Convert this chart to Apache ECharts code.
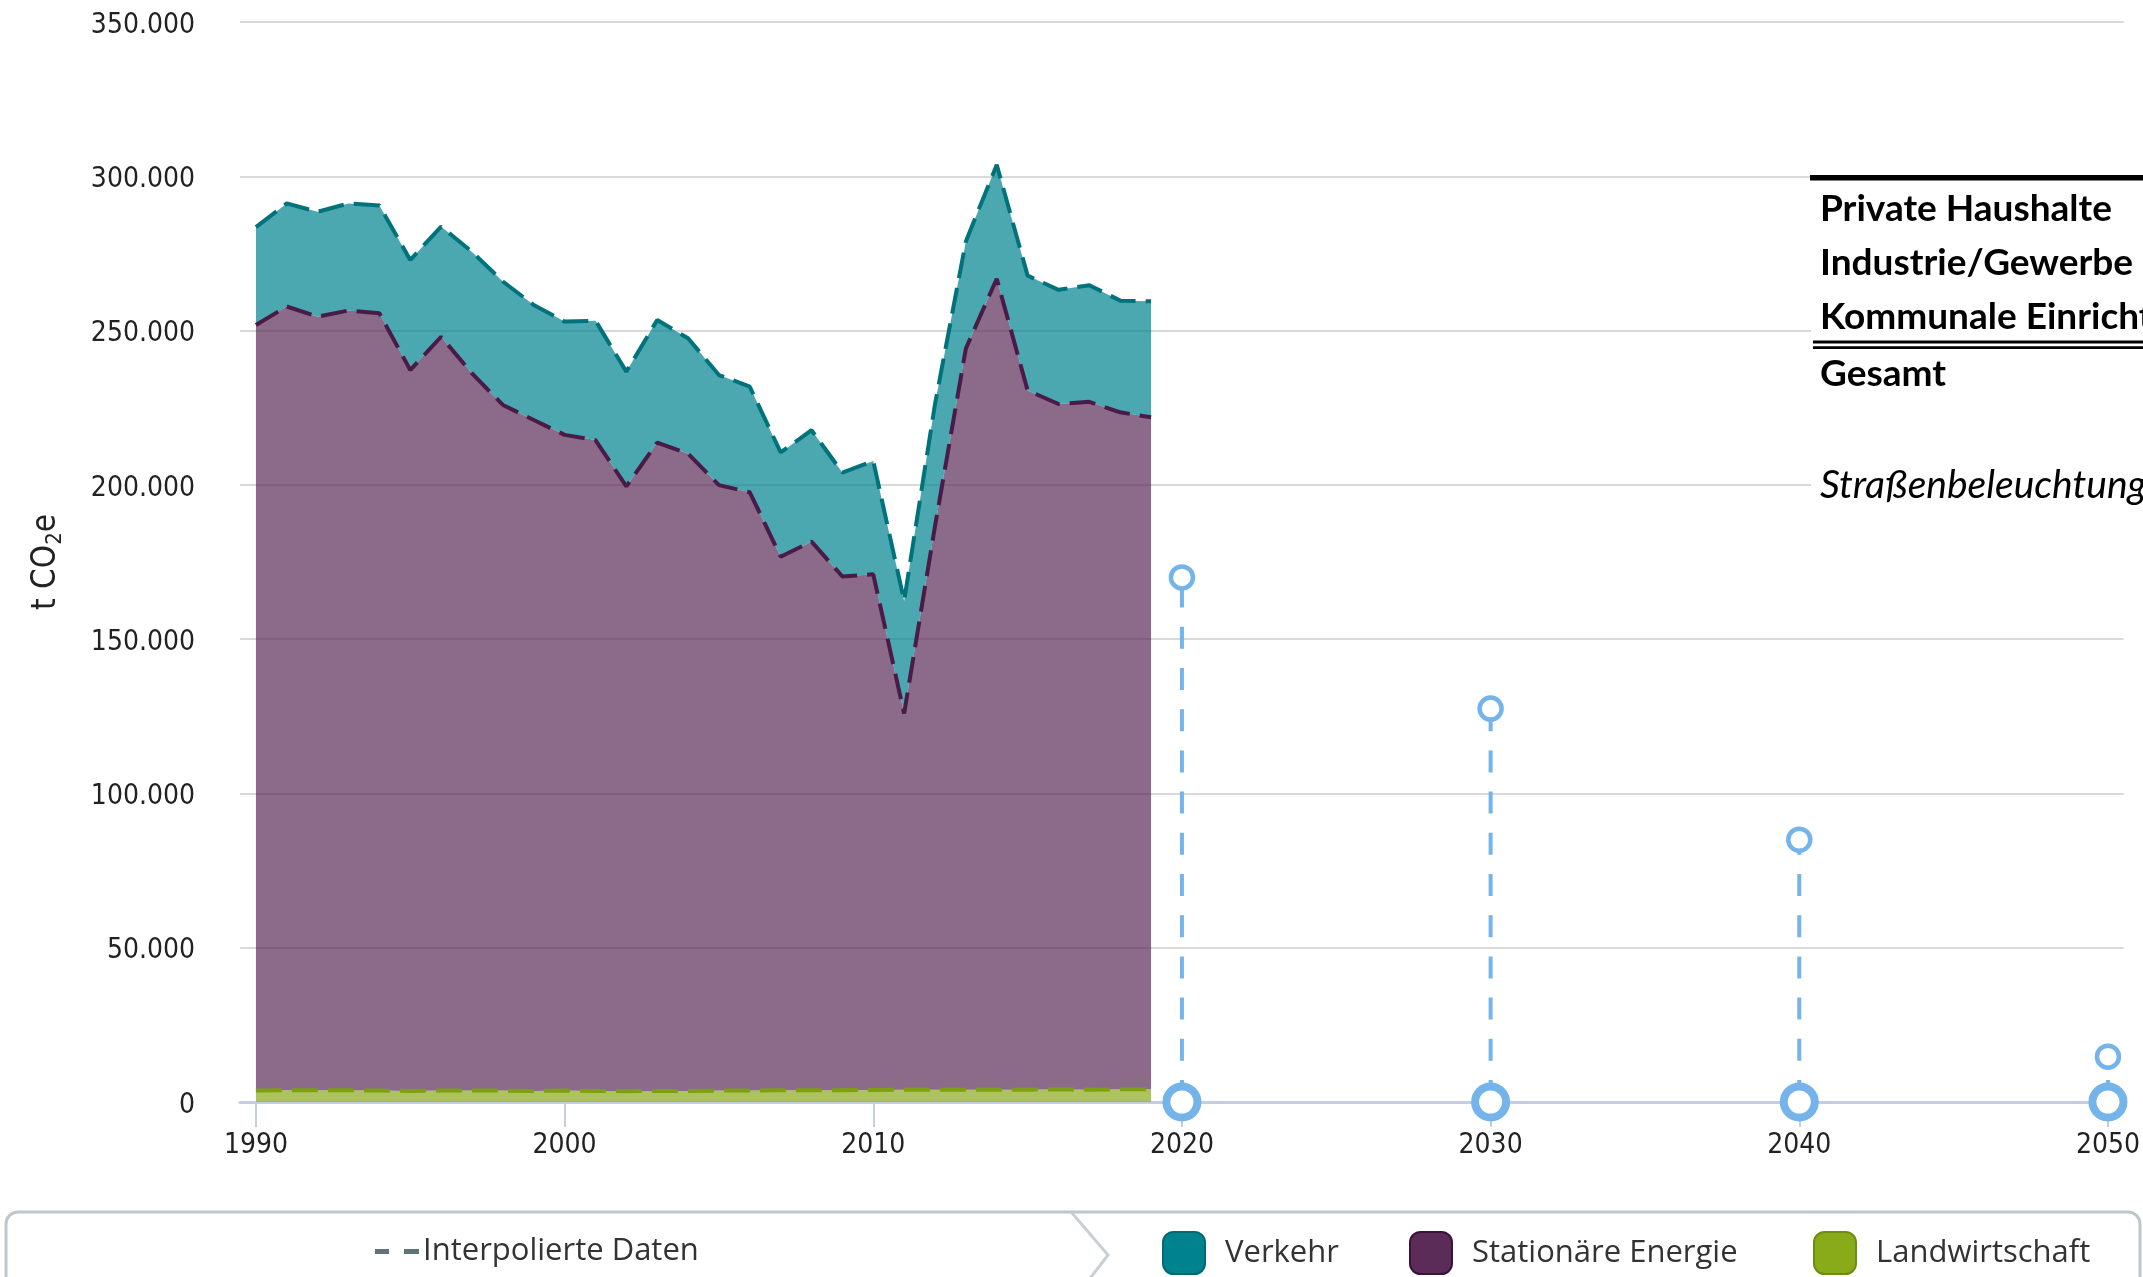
<!DOCTYPE html>
<html>
<head>
<meta charset="utf-8">
<script src="https://cdn.jsdelivr.net/npm/echarts@6/dist/echarts.min.js"></script>
<style>
html,body{margin:0;padding:0;background:#fff;}
#chart{width:2143px;height:1277px;}
</style>
</head>
<body>
<div id="chart"></div>
<script>
// ---- data ----
const years = [1990,1991,1992,1993,1994,1995,1996,1997,1998,1999,2000,2001,2002,2003,2004,2005,2006,2007,2008,2009,2010,2011,2012,2013,2014,2015,2016,2017,2018,2019];
const landwirtschaft = [3700,3800,3800,3800,3700,3600,3700,3700,3700,3600,3700,3600,3500,3600,3600,3700,3700,3800,3800,3800,3900,4000,4000,4000,4000,4000,4100,4000,4100,4100];
const stationaer = [248100,254000,250700,252700,251900,233600,244300,232400,222200,217400,212500,210900,196000,210100,206500,196200,193900,172900,177800,166500,167100,121900,182600,240200,262800,226600,222100,222900,219400,217800];
const verkehr = [31700,33400,34000,34700,34900,35700,35700,39400,40000,37300,36700,38700,37200,39700,37400,35700,34200,33800,36100,33700,36700,36500,39600,34700,36900,37200,37000,37800,36200,37600];
const zielJahre = [2020,2030,2040,2050];
const zielWerte = [170000,127500,85000,14700];
const xTicks = [1990,2000,2010,2020,2030,2040,2050];
const tableRows = ['Private Haushalte','Industrie/Gewerbe','Kommunale Einrichtungen','Gesamt'];
const tableNote = 'Straßenbeleuchtung';

// ---- build ----
// value first, year second, so that the stacked dimension is the value (y)
const pair = arr => years.map((y,i)=>[arr[i], y]);
const fmt = v => String(v).replace(/\B(?=(\d{3})+(?!\d))/g,'.');
const AX = '"DejaVu Sans Condensed","Liberation Sans Narrow","DejaVu Sans",sans-serif';
const LG = '"Open Sans",sans-serif';

function areaSeries(name, data, color, line, fill){
  return {
    name, type:'line', stack:'total', data:pair(data), color,
    dimensions:['wert','jahr'], encode:{x:'jahr', y:'wert'},
    symbol:'none', showSymbol:false,
    lineStyle:{color:line, width:4, type:[26,10]},
    areaStyle:{color:fill, opacity:1},
    z:2
  };
}

const chart = echarts.init(document.getElementById('chart'), null, {renderer:'canvas'});
const legendBase = (name, left, col, border) => ({
  left, top:1226, orient:'horizontal', icon:'roundRect', itemWidth:42, itemHeight:42,
  selectedMode:false,
  data:[{name, icon:'roundRect', itemStyle:{color:col, borderColor:border, borderWidth:2}}],
  textStyle:{fontFamily:LG, fontSize:31, color:'#333', padding:[0,0,0,15]}
});
const tRow = (text, y, extra) => Object.assign({type:'text', z:61, x:1820, y,
  style:Object.assign({text, fontFamily:'Lato', fontWeight:'bold', fontSize:37, fill:'#000', verticalAlign:'middle', align:'left'}, extra||{})});

const option = {
  animation:false,
  backgroundColor:'#fff',
  grid:{left:240, right:10, top:22, bottom:175, containLabel:false},
  xAxis:{
    type:'value', min:1989.484, max:2050.509,
    axisLine:{show:true, lineStyle:{color:'#c5cee0', width:3}},
    axisTick:{show:true, length:25, lineStyle:{color:'#c5cee0', width:2}, customValues:xTicks},
    axisLabel:{customValues:xTicks, formatter:v=>String(Math.round(v)), fontFamily:AX, fontSize:28, color:'#222', margin:30},
    splitLine:{show:false}
  },
  yAxis:{
    type:'value', min:0, max:350000, interval:50000,
    axisLine:{show:false}, axisTick:{show:false},
    axisLabel:{formatter:v=>'{v|'+fmt(v)+'}', fontFamily:AX, fontSize:28, color:'#222', margin:45,
      rich:{v:{fontFamily:AX, fontSize:28, color:'#222', padding:[7,0,0,0]}}},
    splitLine:{lineStyle:{color:'#d9d9d9', width:2}},
    name:'{n|t CO}{sub|2}{n|e}', nameLocation:'middle', nameRotate:90, nameGap:174,
    nameTextStyle:{fontFamily:AX, fontSize:33, color:'#222',
      rich:{
        n:{fontFamily:AX, fontSize:33, color:'#222', lineHeight:40, verticalAlign:'middle'},
        sub:{fontFamily:AX, fontSize:22, color:'#222', lineHeight:22, verticalAlign:'bottom'}
      }}
  },
  legend:[
    legendBase('Verkehr',1157,'#00838f','#006a73'),
    legendBase('Stationäre Energie',1404,'#5a2c57','#3d1239'),
    legendBase('Landwirtschaft',1808,'#8aab19','#6f8d0c')
  ],
  series:[
    areaSeries('Landwirtschaft', landwirtschaft, '#8aab19', '#7f9f12', 'rgba(138,171,25,0.7)'),
    areaSeries('Stationäre Energie', stationaer, '#5a2c57', '#4a1b46', 'rgba(90,44,87,0.7)'),
    areaSeries('Verkehr', verkehr, '#00838f', '#00727c', 'rgba(0,131,143,0.7)'),
    {
      name:'Ziel', type:'custom', clip:false, z:5,
      data:zielJahre.map((y,i)=>[y,zielWerte[i]]),
      encode:{x:0,y:1},
      renderItem:function(params, api){
        const x = api.value(0), v = api.value(1);
        const p0 = api.coord([x,0]), p1 = api.coord([x,v]);
        const c = '#74b4ea';
        return {type:'group', children:[
          {type:'line', shape:{x1:p0[0],y1:p0[1],x2:p1[0],y2:p1[1]}, style:{stroke:c, lineWidth:4, lineDash:[22,19.2], fill:null}},
          {type:'circle', shape:{cx:p1[0],cy:p1[1],r:11}, style:{fill:'#fff', stroke:c, lineWidth:4.5}},
          {type:'circle', shape:{cx:p0[0],cy:p0[1],r:15.5}, style:{fill:'#fff', stroke:c, lineWidth:8}}
        ]};
      }
    }
  ],
  graphic:[
    // legend frame
    {type:'rect', z:50, shape:{x:6,y:1212,width:2134,height:140,r:12}, style:{fill:null, stroke:'#bdc6ca', lineWidth:3}},
    {type:'polyline', z:50, shape:{points:[[1072,1213],[1108,1255],[1075,1298]]}, style:{fill:null, stroke:'#c9d0d3', lineWidth:3}},
    {type:'rect', z:50, shape:{x:375,y:1249,width:14,height:5}, style:{fill:'#5e7479'}},
    {type:'rect', z:50, shape:{x:404,y:1249,width:15,height:5}, style:{fill:'#5e7479'}},
    {type:'text', z:50, x:423, y:1251, style:{text:'Interpolierte Daten', fontFamily:LG, fontSize:31, fill:'#333', verticalAlign:'middle', align:'left'}},
    // overlaid table
    {type:'rect', z:60, shape:{x:1811,y:170,width:340,height:390}, style:{fill:'#fff'}},
    {type:'rect', z:61, shape:{x:1810,y:175,width:340,height:5.5}, style:{fill:'#000'}},
    {type:'rect', z:61, shape:{x:1813,y:340.5,width:340,height:3}, style:{fill:'#000'}},
    {type:'rect', z:61, shape:{x:1813,y:346.3,width:340,height:2.7}, style:{fill:'#000'}},
    tRow(tableRows[0], 209),
    tRow(tableRows[1], 263),
    tRow(tableRows[2], 317),
    tRow(tableRows[3], 374),
    tRow(tableNote, 485, {fontWeight:'normal', fontStyle:'italic', fontSize:39})
  ]
};
chart.setOption(option);
</script>
</body>
</html>
